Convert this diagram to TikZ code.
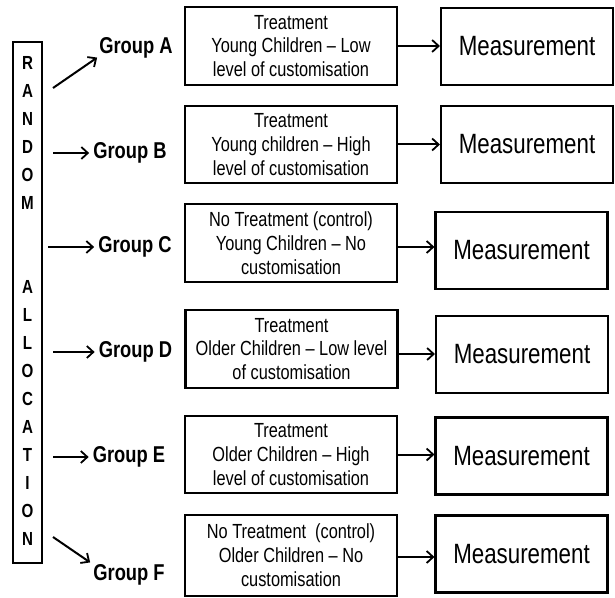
\documentclass[tikz,border=0pt]{standalone}
\usepackage{fontspec}
\setmainfont{Liberation Sans}[FakeStretch=0.8]
\usetikzlibrary{arrows.meta}
\begin{document}
\begin{tikzpicture}[x=1bp,y=-1bp,
  frame/.style={draw=black,line width=2.1bp,inner sep=0pt},
  midbox/.style={frame,minimum width=212bp,align=center,
    font=\fontsize{20.5}{24}\selectfont},
  measbox/.style={frame,minimum width=172bp,minimum height=77bp,
    font=\fontsize{28}{30}\selectfont},
  grouplabel/.style={inner sep=4bp,font=\bfseries\fontsize{23}{26}\selectfont},
  arr/.style={line width=2bp,-{Straight Barb[length=6.5bp,width=12bp,line width=1.8bp]}}]
\useasboundingbox (0,0) rectangle (615,598);

% allocation column
\node[frame,minimum width=29bp,minimum height=521bp] (alloc) at (27.5,302.5) {};
\node[align=center,inner sep=0pt,font=\bfseries\fontsize{19}{28.1}\selectfont] (letters) at (27.5,301)
  {R\\A\\N\\D\\O\\M\\\mbox{}\\\mbox{}\\A\\L\\L\\O\\C\\A\\T\\I\\O\\N};

% group labels
\node[grouplabel] (gA) at (136,48) {Group A};
\node[grouplabel] (gB) at (130,153) {Group B};
\node[grouplabel] (gC) at (135,247) {Group C};
\node[grouplabel] (gD) at (135.5,352) {Group D};
\node[grouplabel] (gE) at (129,457) {Group E};
\node[grouplabel] (gF) at (129,575) {Group F};

% arrow tails beside the allocation column
\coordinate (sA) at (53,88);
\coordinate (sB) at (53,153);
\coordinate (sC) at (48,247);
\coordinate (sD) at (53,352);
\coordinate (sE) at (53,457);
\coordinate (sF) at (53,537);

% treatment boxes
\node[midbox,minimum height=78bp] (mA) at (291,46)
  {Treatment\\Young Children -- Low\\level of customisation};
\node[midbox,minimum height=77bp] (mB) at (291,144.5)
  {Treatment\\Young children -- High\\level of customisation};
\node[midbox,minimum height=78bp] (mC) at (291,243)
  {No Treatment (control)\\Young Children -- No\\customisation};
\node[midbox,minimum height=78bp] (mD) at (291.5,349)
  {Treatment\\Older Children -- Low level\\of customisation};
\node[midbox,minimum height=77bp] (mE) at (291,454.5)
  {Treatment\\Older Children -- High\\level of customisation};
\node[midbox,minimum height=81bp] (mF) at (291,555.5)
  {No Treatment~~(control)\\Older Children -- No\\customisation};

% measurement boxes
\node[measbox] (rA) at (527,46.5) {Measurement};
\node[measbox] (rB) at (527,144.5) {Measurement};
\node[measbox] (rC) at (521.5,250.5) {Measurement};
\node[measbox] (rD) at (522,354.5) {Measurement};
\node[measbox] (rE) at (521.5,456) {Measurement};
\node[measbox] (rF) at (521.5,554) {Measurement};

% allocation arrows
\draw[arr] (sA) -- ([shift={(2,-5)}]gA.south west);
\draw[arr] (sB) -- (gB.west);
\draw[arr] (sC) -- (gC.west);
\draw[arr] (sD) -- (gD.west);
\draw[arr] (sE) -- (gE.west);
\draw[arr] (sF) -- ([shift={(1,2)}]gF.north west);

% treatment to measurement arrows
\draw[arr] (mA.east) -- (mA.east -| rA.west);
\draw[arr] (mB.east) -- (mB.east -| rB.west);
\draw[arr] ([yshift=-4bp]mC.east) -- ([yshift=-4bp]mC.east -| rC.west);
\draw[arr] ([yshift=-5bp]mD.east) -- ([yshift=-5bp]mD.east -| rD.west);
\draw[arr] (mE.east) -- (mE.east -| rE.west);
\draw[arr] ([yshift=-1.5bp]mF.east) -- ([yshift=-1.5bp]mF.east -| rF.west);
\end{tikzpicture}
\end{document}
